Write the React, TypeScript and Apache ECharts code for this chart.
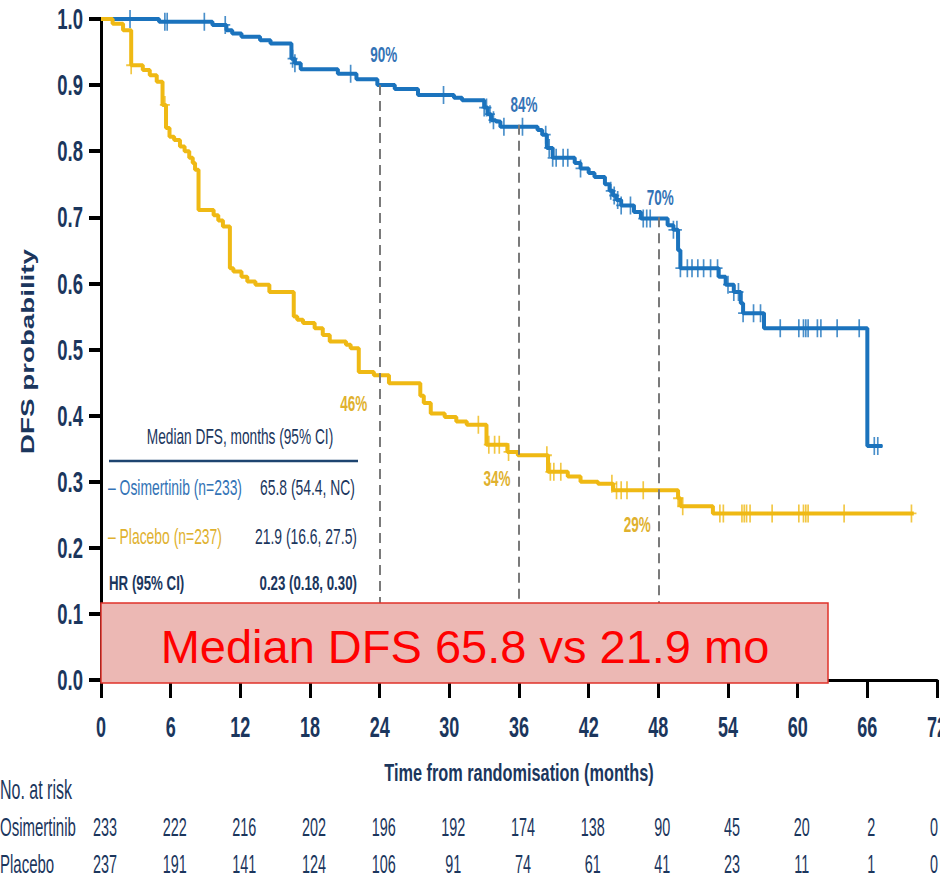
import React, { useEffect, useRef } from "react";
import * as echarts from "echarts";

// ---------- data ----------
const osiT = [0, 5.0, 9.6, 10.8, 11.3, 12.1, 13.7, 14.6, 16.4, 16.7, 17.2, 20.4, 22.0, 23.8, 25.3, 27.3, 30.4, 31.1, 33.0, 33.3, 33.6, 34.0, 34.4, 37.6, 38.0, 38.4, 38.9, 40.8, 41.3, 42.0, 42.5, 43.4, 43.8, 44.1, 44.4, 44.8, 45.9, 46.5, 48.8, 49.3, 49.7, 49.9, 53.2, 53.8, 54.5, 55.1, 55.3, 57.1, 66.0, 67.3];
const osiS = [1.0, 0.996, 0.991, 0.983, 0.978, 0.973, 0.968, 0.963, 0.94, 0.933, 0.924, 0.917, 0.909, 0.9, 0.894, 0.885, 0.881, 0.877, 0.866, 0.856, 0.847, 0.845, 0.837, 0.832, 0.825, 0.805, 0.79, 0.782, 0.774, 0.767, 0.761, 0.75, 0.74, 0.733, 0.726, 0.718, 0.708, 0.698, 0.688, 0.681, 0.65, 0.623, 0.61, 0.598, 0.587, 0.57, 0.555, 0.532, 0.354, 0.354];
const plaT = [0, 1.0, 1.9, 2.6, 3.6, 4.2, 4.8, 5.3, 5.6, 5.9, 6.3, 6.8, 7.2, 7.6, 7.9, 8.1, 8.4, 9.7, 10.1, 10.5, 11.1, 11.4, 12.1, 12.6, 13.3, 14.5, 16.6, 16.9, 17.4, 18.4, 19.1, 19.7, 21.1, 21.5, 22.2, 23.5, 24.8, 27.5, 27.8, 28.4, 29.6, 30.6, 31.5, 33.2, 35.0, 35.9, 38.5, 40.2, 41.3, 42.8, 44.1, 49.7, 49.9, 52.7, 70.0];
const plaS = [1.0, 0.993, 0.983, 0.93, 0.923, 0.915, 0.905, 0.87, 0.835, 0.822, 0.817, 0.807, 0.8, 0.79, 0.782, 0.772, 0.711, 0.703, 0.695, 0.686, 0.623, 0.618, 0.61, 0.603, 0.598, 0.587, 0.55, 0.545, 0.54, 0.532, 0.522, 0.512, 0.507, 0.502, 0.466, 0.461, 0.449, 0.43, 0.419, 0.403, 0.398, 0.391, 0.386, 0.356, 0.345, 0.34, 0.315, 0.308, 0.3, 0.297, 0.287, 0.275, 0.263, 0.252, 0.252];
const osiCensor = [2.5, 5.5, 5.7, 8.9, 10.7, 16.5, 16.7, 21.5, 29.5, 33.0, 33.2, 33.5, 33.8, 34.7, 36.3, 38.3, 38.6, 38.9, 39.2, 39.8, 40.2, 41.3, 43.9, 44.2, 44.5, 44.8, 45.6, 46.7, 47.0, 47.3, 49.3, 49.6, 49.9, 50.5, 50.9, 51.4, 51.9, 52.5, 53.1, 54.0, 54.5, 54.9, 55.3, 56.2, 56.8, 58.5, 60.1, 60.5, 60.7, 60.9, 61.7, 62.0, 63.4, 65.3, 66.6, 66.9];
const plaCensor = [2.6, 5.5, 32.5, 33.4, 33.9, 34.3, 35.1, 38.4, 38.7, 39.0, 39.6, 44.0, 44.4, 44.8, 45.3, 46.7, 49.7, 50.1, 53.3, 53.6, 55.2, 55.4, 55.6, 55.9, 57.8, 60.1, 60.5, 60.7, 60.9, 64.0, 69.8];
const landmarkMonths = [24, 36, 48];
const osiLandmark = [0.9, 0.84, 0.7];
const plaLandmark = [0.46, 0.34, 0.29];
const xTicks = [0, 6, 12, 18, 24, 30, 36, 42, 48, 54, 60, 66, 72];
const yTicks = [0, 0.1, 0.2, 0.3, 0.4, 0.5, 0.6, 0.7, 0.8, 0.9, 1.0];
const osiRisk = [233, 222, 216, 202, 196, 192, 174, 138, 90, 45, 20, 2, 0];
const plaRisk = [237, 191, 141, 124, 106, 91, 74, 61, 41, 23, 11, 1, 0];

// ---------- style ----------
const BLUE = "#1b73bd";
const YELLOW = "#efb914";
const BLUE_TXT = "#3373b6";
const YEL_TXT = "#e0b12e";
const NAVY = "#1b365d";
const ARIAL = "'Liberation Sans', Arial, sans-serif";
const STRETCH = 1.6; // the source picture is stretched vertically
const PLUS = "path://M7,0 H9 V9 H14 V11 H9 V20 H7 V11 H2 V9 H7 Z";
const osiLabelOffset = [[4, -31], [5, -21], [2, -20]];
const plaLabelOffset = [[-26, 27], [-22, 23], [-21, 36]];

function stepAt(T: number[], S: number[], t: number) {
  let v = S[0];
  for (let i = 0; i < T.length; i++) if (T[i] <= t) v = S[i];
  return v;
}

function txt(
  x: number,
  y: number,
  text: string,
  size: number,
  fill: string,
  opts: { bold?: boolean; align?: string; sy?: number; sx?: number; rot?: number; z?: number } = {}
) {
  return {
    type: "text",
    x,
    y,
    z: opts.z ?? 30,
    rotation: opts.rot ?? 0,
    scaleX: opts.sx ?? 1,
    scaleY: opts.sy ?? STRETCH,
    silent: true,
    style: {
      text,
      fill,
      font: `${opts.bold ? "bold " : ""}${size}px ${ARIAL}`,
      textAlign: opts.align ?? "left",
      textVerticalAlign: "middle",
    },
  };
}

export default function App() {
  const ref = useRef<HTMLDivElement>(null);
  useEffect(() => {
    document.body.style.margin = "0";
    const chart = echarts.init(ref.current!, null, { renderer: "svg" });
    const option: any = {
      animation: false,
      backgroundColor: "#fff",
      grid: { left: 101, right: 3, top: 19, bottom: 197, containLabel: false },
      xAxis: {
        type: "value",
        min: 0,
        max: 72,
        interval: 6,
        axisLine: { onZero: false, lineStyle: { color: "#000", width: 3 } },
        axisTick: { length: 18, lineStyle: { color: "#000", width: 3 } },
        axisLabel: { show: false },
        splitLine: { show: false },
      },
      yAxis: {
        type: "value",
        min: 0,
        max: 1,
        interval: 0.1,
        axisLine: { lineStyle: { color: "#000", width: 3 } },
        axisTick: { length: 12, lineStyle: { color: "#000", width: 4 } },
        axisLabel: { show: false },
        splitLine: { show: false },
      },
      series: [
        {
          name: "Osimertinib",
          type: "line",
          step: "end",
          showSymbol: false,
          z: 3,
          lineStyle: { color: BLUE, width: 4 },
          data: osiT.map((t, i) => [t, osiS[i]]),
          markLine: {
            silent: true,
            symbol: "none",
            label: { show: false },
            lineStyle: { color: "#7a7a7a", width: 2, type: [10, 6] },
            data: landmarkMonths.map((m, i) => [{ coord: [m, osiLandmark[i]] }, { coord: [m, 0] }]),
          },
        },
        {
          name: "Placebo",
          type: "line",
          step: "end",
          showSymbol: false,
          z: 4,
          lineStyle: { color: YELLOW, width: 4 },
          data: plaT.map((t, i) => [t, plaS[i]]),
        },
        {
          type: "scatter",
          symbol: PLUS,
          symbolSize: [10, 18],
          z: 3,
          itemStyle: { color: BLUE, opacity: 0.8 },
          data: osiCensor.map((t) => [t, stepAt(osiT, osiS, t)]),
        },
        {
          type: "scatter",
          symbol: PLUS,
          symbolSize: [10, 18],
          z: 4,
          itemStyle: { color: YELLOW, opacity: 0.8 },
          data: plaCensor.map((t) => [t, stepAt(plaT, plaS, t)]),
        },
      ],
    };
    chart.setOption(option);

    const X = (v: number) => chart.convertToPixel({ xAxisIndex: 0 }, v) as number;
    const Y = (v: number) => chart.convertToPixel({ yAxisIndex: 0 }, v) as number;
    const base = Y(0);
    const left = X(0);

    const g: any[] = [];
    // axis tick labels
    yTicks.forEach((v) => g.push(txt(left - 18, Y(v), v.toFixed(1), 18.5, NAVY, { bold: true, align: "right", sy: 1.55 })));
    xTicks.forEach((v) => g.push(txt(X(v), base + 47, String(v), 18, NAVY, { bold: true, align: "center", sy: 1.6 })));
    // axis names
    g.push(txt(27, Y(0.5) + 2, "DFS probability", 19, NAVY, { bold: true, align: "center", rot: Math.PI / 2, sx: 1.46, sy: 1 }));
    g.push(txt(X(36), base + 92, "Time from randomisation (months)", 16.3, NAVY, { bold: true, align: "center", sy: 1.5 }));
    // landmark percentages
    landmarkMonths.forEach((m, i) => {
      g.push(txt(X(m) + osiLabelOffset[i][0], Y(osiLandmark[i]) + osiLabelOffset[i][1], `${Math.round(osiLandmark[i] * 100)}%`, 13.5, BLUE_TXT, { bold: true, align: "center", sy: 1.7 }));
      g.push(txt(X(m) + plaLabelOffset[i][0], Y(plaLandmark[i]) + plaLabelOffset[i][1], `${Math.round(plaLandmark[i] * 100)}%`, 13.5, YEL_TXT, { bold: true, align: "center", sy: 1.7 }));
    });
    // risk table
    g.push(txt(0, base + 110, "No. at risk", 16, NAVY, { sy: 1.72 }));
    g.push(txt(0, base + 147, "Osimertinib", 15, NAVY, { sy: 1.72 }));
    g.push(txt(0, base + 184, "Placebo", 15, NAVY, { sy: 1.72 }));
    xTicks.forEach((v, i) => {
      const cx = Math.min(X(v) + 4, 934);
      g.push(txt(cx, base + 147, String(osiRisk[i]), 14.4, NAVY, { align: "center", sy: 1.78 }));
      g.push(txt(cx, base + 184, String(plaRisk[i]), 14.4, NAVY, { align: "center", sy: 1.78 }));
    });
    // median table
    g.push(txt(240, 437, "Median DFS, months (95% CI)", 13.7, NAVY, { align: "center", sy: 1.55 }));
    g.push({ type: "line", z: 30, shape: { x1: 109, y1: 461, x2: 358, y2: 461 }, style: { stroke: "#1d4470", lineWidth: 2.5 } });
    g.push(txt(108, 488, "– Osimertinib (n=233)", 13.9, BLUE_TXT, { sy: 1.55 }));
    g.push(txt(355, 488, "65.8 (54.4, NC)", 13.9, NAVY, { align: "right", sy: 1.55 }));
    g.push(txt(108, 537, "– Placebo (n=237)", 13.9, YEL_TXT, { sy: 1.55 }));
    g.push(txt(357, 537, "21.9 (16.6, 27.5)", 13.9, NAVY, { align: "right", sy: 1.55 }));
    g.push(txt(109, 583, "HR (95% CI)", 13.3, NAVY, { bold: true, sy: 1.55 }));
    g.push(txt(357, 583, "0.23 (0.18, 0.30)", 13.3, NAVY, { bold: true, align: "right", sy: 1.55 }));
    // red box
    g.push({ type: "rect", z: 40, shape: { x: 101, y: 603, width: 727, height: 80 }, style: { fill: "#ecb8b4", stroke: "#e0322a", lineWidth: 1.5 } });
    g.push(txt(465, 646, "Median DFS 65.8 vs 21.9 mo", 47, "#ff0000", { align: "center", sy: 1, z: 41 }));

    chart.setOption({ graphic: g });
    return () => chart.dispose();
  }, []);
  return <div ref={ref} style={{ width: 940, height: 877 }} />;
}
